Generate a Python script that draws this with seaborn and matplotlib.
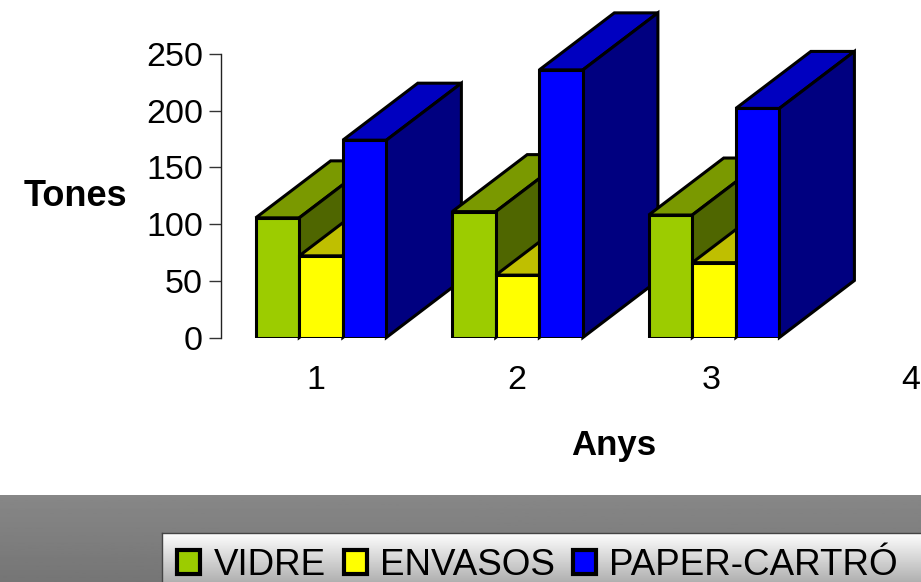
import numpy as np
import pandas as pd
import seaborn as sns
from matplotlib import pyplot as plt
from matplotlib.patches import Patch, Polygon
from matplotlib.transforms import IdentityTransform

# values
anys = [1, 2, 3]
anys_eix = [1, 2, 3, 4]
vidre = [105.5, 111, 108]
envasos = [72, 55, 66]
paper = [174, 236, 202]
materials = ["VIDRE", "ENVASOS", "PAPER-CARTRÓ"]

front_cols = ["#9CCC00", "#FFFF00", "#0000FF"]
top_cols = ["#7A9900", "#BFBF00", "#0000C0"]
side_cols = ["#4F6600", "#808000", "#000080"]

W, H = 921, 582
DEPTH_X, DEPTH_Y = 75, 57  # extrusion of the fake 3D, pixels

df = pd.DataFrame({
    "any": anys * 3,
    "tones": vidre + envasos + paper,
    "material": [m for m in materials for _ in anys],
})

sns.set_style("ticks")
plt.rcParams["font.family"] = ["Liberation Sans", "DejaVu Sans"]
plt.rcParams["text.color"] = "black"
plt.rcParams["xtick.labelcolor"] = "black"
plt.rcParams["ytick.labelcolor"] = "black"

fig = plt.figure(figsize=(W / 100, H / 100), dpi=100, facecolor="white")


def px_axes(left, top, right, bottom, **kw):
    return fig.add_axes([left / W, 1 - bottom / H, (right - left) / W, (bottom - top) / H], **kw)


# grey band at the bottom
band = px_axes(0, 495, W, H)
band.imshow(np.linspace(0.53, 0.46, 64).reshape(-1, 1), cmap="gray", vmin=0, vmax=1, aspect="auto")
band.axis("off")

ax = px_axes(221, 54, W, 337.5)
ax.set_facecolor("none")
sns.barplot(data=df, x="any", y="tones", hue="material", order=anys_eix, hue_order=materials,
            palette=front_cols, width=0.665, gap=0, saturation=1, legend=False, ax=ax)
ax.set_xlim(-0.509, 3.053)
ax.set_ylim(0, 250)
ax.set_yticks([0, 50, 100, 150, 200, 250])
# the labels sit a little left of the bar groups
ax.set_xticks([-0.025, 0.995, 1.985, 3.0], [str(a) for a in anys_eix])
ax.tick_params(axis="y", labelsize=24.5, length=9, width=1, color="#333333", pad=4)
ax.tick_params(axis="x", labelsize=24.5, length=0, pad=19.5)
sns.despine(ax=ax, bottom=True)
ax.spines["left"].set_color("#222222")
ax.spines["left"].set_linewidth(1)
ax.set_xlabel("")
ax.set_ylabel("")

# top and side faces, built from the bars seaborn placed
LW = 2.2
for h, bars in enumerate(ax.containers):
    for g, bar in enumerate(bars):
        if np.isnan(bar.get_height()):
            continue
        z = 3 + g * 3 + h
        bar.set(edgecolor="black", linewidth=LW, zorder=z + 0.2, joinstyle="miter")
        x0, x1 = bar.get_x(), bar.get_x() + bar.get_width()
        (px0, py0), (px1, py1) = ax.transData.transform([(x0, 0), (x1, bar.get_height())])
        top = [(px0, py1), (px1, py1), (px1 + DEPTH_X, py1 + DEPTH_Y), (px0 + DEPTH_X, py1 + DEPTH_Y)]
        side = [(px1, py0), (px1, py1), (px1 + DEPTH_X, py1 + DEPTH_Y), (px1 + DEPTH_X, py0 + DEPTH_Y)]
        for pts, col in ((top, top_cols[h]), (side, side_cols[h])):
            ax.add_patch(Polygon(pts, closed=True, facecolor=col, edgecolor="black", linewidth=LW,
                                 joinstyle="miter", transform=IdentityTransform(),
                                 clip_on=False, zorder=z))

fig.text(75 / W, 1 - 197 / H, "Tones", fontsize=26, fontweight="bold", ha="center", va="center")
fig.text(614 / W, 1 - 446 / H, "Anys", fontsize=25, fontweight="bold", ha="center", va="center")

# legend box with its gradient
box = px_axes(162, 532.5, W + 2, H + 2, zorder=2)
box.imshow(np.linspace(1.0, 0.68, 64).reshape(-1, 1), cmap="gray", vmin=0, vmax=1, aspect="auto")
box.set_xticks([])
box.set_yticks([])
for s in box.spines.values():
    s.set_color("#444444")
    s.set_linewidth(1)

handles = [Patch(facecolor=c, edgecolor="black", linewidth=3) for c in front_cols]
leg = fig.legend(handles, materials, ncol=3, loc="lower left", bbox_to_anchor=(170 / W, 1 - 590 / H),
                 frameon=False, fontsize=26.5, handlelength=0.62, handleheight=0.62,
                 handletextpad=0.36, columnspacing=0.5, borderpad=0.2, borderaxespad=0)
leg.set_zorder(5)

fig.savefig("out.png", dpi=100)
